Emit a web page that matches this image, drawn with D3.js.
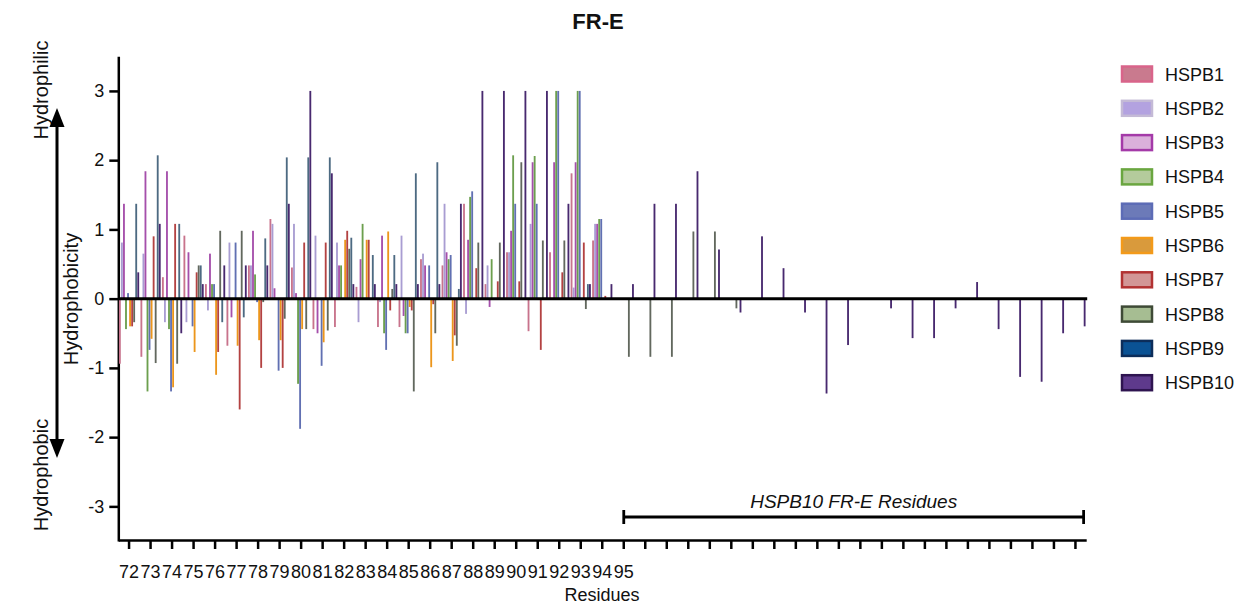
<!DOCTYPE html>
<html><head><meta charset="utf-8">
<script src="https://cdn.jsdelivr.net/npm/d3@7"></script>
<style>
body{margin:0;background:#fff;}
text{font-family:"Liberation Sans",Arial,Helvetica,sans-serif;fill:#111;}
</style>
</head><body>
<svg id="chart" width="1250" height="606"></svg>
<script>
// ---------- DATA ----------
const residues = ["72","73","74","75","76","77","78","79","80","81","82","83","84","85","86","87","88","89","90","91","92","93","94","95",
  "96","97","98","99","100","101","102","103","104","105","106","107","108","109","110","111","112","113","114","115","116"];
const tickLabels = ["72","73","74","75","76","77","78","79","80","81","82","83","84","85","86","87","88","89","90","91","92","93","94","95",
  "","","","","","","","","","","","","","","","","","","","",""];
const seriesNames = ["HSPB1","HSPB2","HSPB3","HSPB4","HSPB5","HSPB6","HSPB7","HSPB8","HSPB9","HSPB10"];

const N = null;
const HSPB1 = [-0.94,-0.84,0.31,0.91,0.21,-0.68,0.48,1.15,0.45,-0.44,-0.41,0.17,-0.41,-0.41,0.57,0.48,1.37,0.21,0.67,-0.47,0.67,1.81,0.84,
  N,N,N,N,N,N,N,N,N,N,N,N,N,N,N,N,N,N,N,N,N,N];
const HSPB2 = [0.81,0.65,-0.34,-0.34,-0.17,0.81,0.48,1.08,1.08,0.91,0.81,-0.34,-0.05,0.91,0.65,1.37,-0.22,0.48,0.67,1.08,N,0.16,1.08,
  N,N,N,N,N,N,N,N,N,N,N,N,N,N,N,N,N,N,N,N,N,N];
const HSPB3 = [1.37,1.84,1.84,0.67,0.65,-0.27,0.98,0.15,0.08,-0.5,0.48,0.57,0.91,-0.25,0.48,0.67,0.85,-0.12,0.98,1.97,1.97,1.97,1.08,
  N,N,N,N,N,N,N,N,N,N,N,N,N,N,N,N,N,N,N,N,N,N];
const HSPB4 = [-0.44,-1.34,-0.44,N,0.21,N,0.35,N,-1.23,N,0.48,1.08,-0.5,-0.5,N,0.57,1.47,0.57,2.07,2.06,3.0,3.0,1.15,
  N,N,N,N,N,N,N,N,N,N,N,N,N,N,N,N,N,N,N,N,N,N];
const HSPB5 = [0.08,-0.74,-1.34,-0.4,0.21,0.81,-0.05,-1.04,-1.88,-0.97,N,N,-0.74,-0.5,0.48,0.63,1.55,N,1.37,1.37,3.0,3.0,1.15,
  N,N,N,N,N,N,N,N,N,N,N,N,N,N,N,N,N,N,N,N,N,N];
const HSPB6 = [-0.4,-0.58,-1.28,-0.77,-1.1,-0.68,-0.6,-0.6,-0.44,-0.63,0.85,0.85,0.97,-0.12,-0.99,-0.9,N,N,N,N,N,N,N,
  N,N,N,N,N,N,N,N,N,N,N,N,N,N,N,N,N,N,N,N,N,N];
const HSPB7 = [-0.4,0.9,1.08,0.38,-0.77,-1.6,-1.0,-1.0,0.81,0.81,0.98,0.85,-0.17,-0.17,-0.08,-0.53,0.44,0.25,0.25,-0.74,0.38,0.81,0.04,
  N,N,N,N,N,N,N,N,N,N,N,N,N,N,N,N,N,N,N,N,N,N];
const HSPB8 = [-0.34,-0.93,-0.94,0.48,0.98,0.98,-0.05,-0.29,-0.44,-0.46,0.72,N,0.14,-1.34,-0.5,-0.68,0.81,0.81,1.97,0.84,0.84,-0.15,N,
  -0.84,-0.84,-0.84,0.97,0.97,-0.14,N,N,N,N,N,N,N,N,N,N,N,N,N,N,N,N];
const HSPB9 = [1.37,2.07,1.08,0.48,-0.34,-0.27,0.87,2.04,2.04,2.04,0.88,0.63,0.63,1.81,1.97,0.14,N,N,N,N,N,0.21,N,
  N,N,N,N,N,N,N,N,N,N,N,N,N,N,N,N,N,N,N,N,N,N];
const HSPB10 = [0.38,1.08,-0.5,0.21,0.48,0.48,0.48,1.37,3.0,1.81,0.21,0.21,0.21,0.21,0.21,1.37,3.0,3.0,3.0,3.0,1.37,0.21,0.21,
  0.21,1.37,1.37,1.84,0.71,-0.2,0.9,0.44,-0.2,-1.37,-0.67,N,-0.14,-0.57,-0.57,-0.14,0.24,-0.44,-1.13,-1.2,-0.5,-0.4];
const yTicks = [-3,-2,-1,0,1,2,3];

const seriesValues = [HSPB1,HSPB2,HSPB3,HSPB4,HSPB5,HSPB6,HSPB7,HSPB8,HSPB9,HSPB10];
const barColors = ["#c8738c","#a99dd2","#a54fab","#6c9f4e","#6170b2","#ec961c","#b34242","#62685e","#4d6a82","#48296f"];
const swatchFill = ["#c97a8e","#b3a2e0","#dbb0db","#b4cb9c","#6c7ab8","#d99a3c","#d29696","#a6bd92","#0a5294","#5e3a8c"];
const swatchStroke = ["#d9648a","#c4bad6","#a43aa8","#6aa640","#5d6cb6","#f39a1a","#b23232","#3e4a36","#0c2d5a","#2e1450"];

// ---------- CHART ----------
const svg = d3.select("#chart");
const plotLeft = 118.3, plotRight = 1086.2, plotTop = 56.3, plotBottom = 541;

const x0 = d3.scaleBand().domain(residues).range([plotLeft, plotRight]).paddingInner(0.05).paddingOuter(0.025);
const x1 = d3.scaleBand().domain(seriesNames).range([0, x0.bandwidth()]);
const y = d3.scaleLinear().domain([-3.5, 3.5]).range([plotBottom, plotTop]);

// y axis
const gy = svg.append("g").attr("transform", `translate(${plotLeft},0)`)
  .call(d3.axisLeft(y).tickValues(yTicks).tickSize(9).tickSizeOuter(0).tickPadding(5).tickFormat(d => String(d)));
gy.select(".domain").attr("stroke-width", 2.5);
gy.selectAll(".tick line").attr("stroke-width", 2.5);
gy.selectAll(".tick text").style("font-size", "18px").attr("fill", "#222");

// x axis
const gx = svg.append("g").attr("transform", `translate(0,${plotBottom - 1})`)
  .call(d3.axisBottom(x0).tickSize(9).tickSizeOuter(0).tickPadding(16).tickFormat((d, i) => tickLabels[i]));
gx.select(".domain").attr("stroke-width", 2.5);
gx.selectAll(".tick line").attr("stroke-width", 2.5);
gx.selectAll(".tick text").style("font-size", "18px").attr("fill", "#222");

// bars
const barData = [];
seriesNames.forEach((s, si) => {
  residues.forEach((r, ri) => {
    const v = seriesValues[si][ri];
    if (v !== null && v !== 0) barData.push({s, si, r, v});
  });
});
const bw = x1.bandwidth();
svg.append("g").selectAll("rect").data(barData).join("rect")
  .attr("x", d => x0(d.r) + x1(d.s) + bw * 0.05)
  .attr("width", bw * 0.9)
  .attr("y", d => y(Math.max(0, d.v)))
  .attr("height", d => Math.abs(y(d.v) - y(0)))
  .attr("fill", d => barColors[d.si]);

// zero line
svg.append("line")
  .attr("x1", plotLeft).attr("x2", plotRight + 1)
  .attr("y1", y(0)).attr("y2", y(0))
  .attr("stroke", "#000").attr("stroke-width", 3);

// title and axis titles
svg.append("text").attr("x", 598).attr("y", 29).attr("text-anchor", "middle")
  .style("font-size", "22px").style("font-weight", "bold").text("FR-E");
svg.append("text").attr("x", 602).attr("y", 601).attr("text-anchor", "middle")
  .style("font-size", "18px").text("Residues");
svg.append("text").attr("transform", "translate(78,299) rotate(-90)").attr("text-anchor", "middle")
  .style("font-size", "20px").text("Hydrophobicity");
svg.append("text").attr("transform", "translate(48,90) rotate(-90)").attr("text-anchor", "middle")
  .style("font-size", "20px").text("Hydrophilic");
svg.append("text").attr("transform", "translate(48,475) rotate(-90)").attr("text-anchor", "middle")
  .style("font-size", "20px").text("Hydrophobic");

// double arrow
const ax = 57;
svg.append("line").attr("x1", ax).attr("x2", ax).attr("y1", 122).attr("y2", 444)
  .attr("stroke", "#000").attr("stroke-width", 3);
svg.append("path").attr("d", `M${ax},108 L${ax-7.5},127 L${ax+7.5},127 Z`).attr("fill", "#000");
svg.append("path").attr("d", `M${ax},458 L${ax-7.5},439 L${ax+7.5},439 Z`).attr("fill", "#000");

// bracket for HSPB10 residues
const bStart = x0("95") + x0.bandwidth() / 2;
const bEnd = x0("116") + x0.bandwidth() * 0.9;
const by = 517;
const gb = svg.append("g").attr("stroke", "#000").attr("stroke-width", 2.8);
gb.append("line").attr("x1", bStart).attr("x2", bEnd).attr("y1", by).attr("y2", by);
gb.append("line").attr("x1", bStart).attr("x2", bStart).attr("y1", by - 7).attr("y2", by + 7);
gb.append("line").attr("x1", bEnd).attr("x2", bEnd).attr("y1", by - 7).attr("y2", by + 7);
svg.append("text").attr("x", (bStart + bEnd) / 2).attr("y", 508).attr("text-anchor", "middle")
  .style("font-size", "19px").style("font-style", "italic").text("HSPB10 FR-E Residues");

// legend
const lg = svg.append("g");
seriesNames.forEach((s, i) => {
  const cy = 74 + i * 34.3;
  lg.append("rect").attr("x", 1122).attr("y", cy - 7.5).attr("width", 30).attr("height", 15)
    .attr("fill", swatchFill[i]).attr("stroke", swatchStroke[i]).attr("stroke-width", 2.5);
  lg.append("text").attr("x", 1165).attr("y", cy + 6.5).style("font-size", "18px").text(s);
});
</script>
</body></html>
